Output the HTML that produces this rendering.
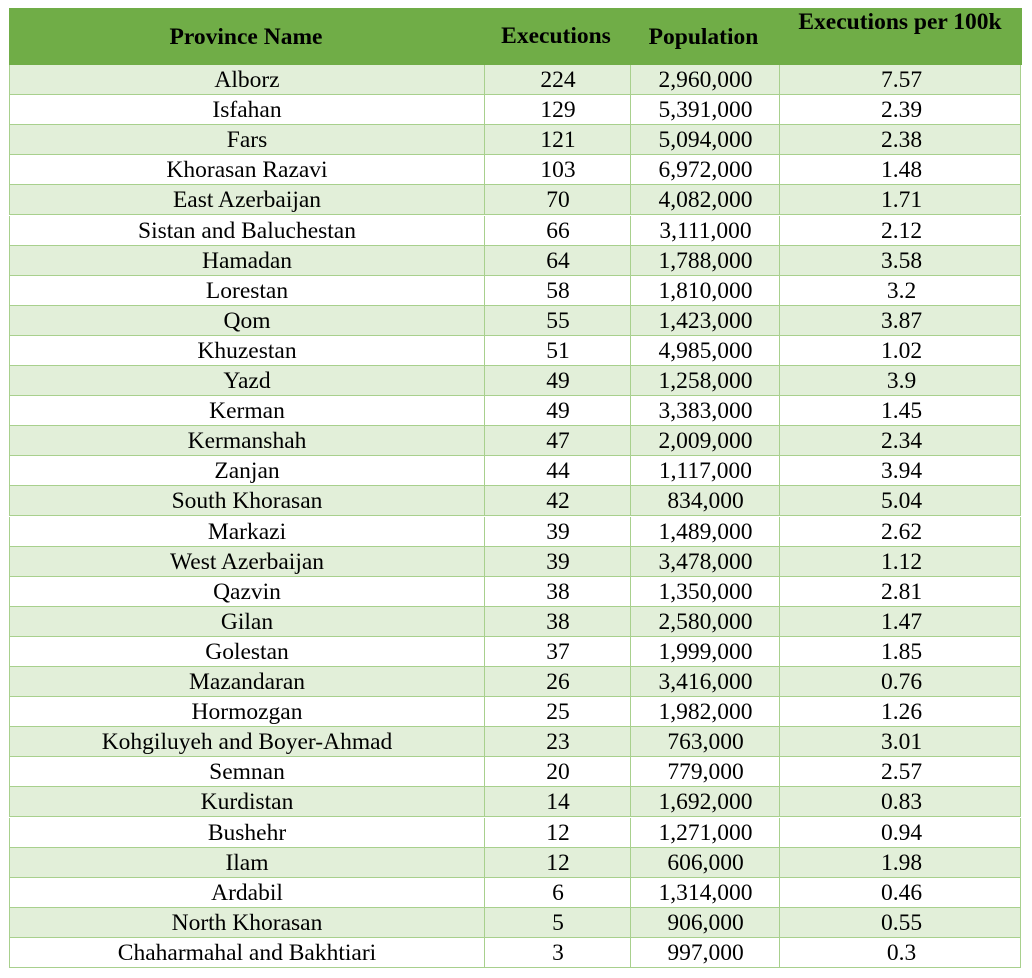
<!DOCTYPE html>
<html><head><meta charset="utf-8"><style>
body{margin:0;width:1032px;height:978px;background:#fff;position:relative;font-family:"Liberation Serif",serif;color:#000;overflow:hidden}
.h{position:absolute;top:8px;left:9px;width:1013px;height:57px;background:#70AD47}
.ht{position:absolute;font-weight:bold;font-size:23.5px;text-align:center}
.r{position:absolute;left:9px;width:1012px;border:1px solid #A8D08D;border-top:none;box-sizing:border-box;height:30.1px}
.g{background:#E2EFD9}
.c{position:absolute;top:0;height:100%;font-size:23.5px;text-align:center;line-height:30px}
.c1{left:0;width:474px}
.c2{left:474px;width:146px;border-left:1px solid #A8D08D}
.c3{left:620px;width:149px;border-left:1px solid #A8D08D}
.c4{left:769px;width:243px;border-left:1px solid #A8D08D}
</style></head><body>
<div class="h"></div>
<div class="ht" style="left:9px;width:474px;top:24px">Province Name</div>
<div class="ht" style="left:483px;width:146px;top:23px">Executions</div>
<div class="ht" style="left:629px;width:149px;top:24px">Population</div>
<div class="ht" style="left:778px;width:244px;top:9px">Executions per 100k</div>
<div id="t"></div>
<script>
var d=[["Alborz",224,"2,960,000","7.57"],["Isfahan",129,"5,391,000","2.39"],["Fars",121,"5,094,000","2.38"],["Khorasan Razavi",103,"6,972,000","1.48"],["East Azerbaijan",70,"4,082,000","1.71"],["Sistan and Baluchestan",66,"3,111,000","2.12"],["Hamadan",64,"1,788,000","3.58"],["Lorestan",58,"1,810,000","3.2"],["Qom",55,"1,423,000","3.87"],["Khuzestan",51,"4,985,000","1.02"],["Yazd",49,"1,258,000","3.9"],["Kerman",49,"3,383,000","1.45"],["Kermanshah",47,"2,009,000","2.34"],["Zanjan",44,"1,117,000","3.94"],["South Khorasan",42,"834,000","5.04"],["Markazi",39,"1,489,000","2.62"],["West Azerbaijan",39,"3,478,000","1.12"],["Qazvin",38,"1,350,000","2.81"],["Gilan",38,"2,580,000","1.47"],["Golestan",37,"1,999,000","1.85"],["Mazandaran",26,"3,416,000","0.76"],["Hormozgan",25,"1,982,000","1.26"],["Kohgiluyeh and Boyer-Ahmad",23,"763,000","3.01"],["Semnan",20,"779,000","2.57"],["Kurdistan",14,"1,692,000","0.83"],["Bushehr",12,"1,271,000","0.94"],["Ilam",12,"606,000","1.98"],["Ardabil",6,"1,314,000","0.46"],["North Khorasan",5,"906,000","0.55"],["Chaharmahal and Bakhtiari",3,"997,000","0.3"]];
var h="";
d.forEach(function(r,i){h+='<div class="r'+(i%2==0?' g':'')+'" style="top:'+(65+i*30.1).toFixed(1)+'px"><div class="c c1">'+r[0]+'</div><div class="c c2">'+r[1]+'</div><div class="c c3">'+r[2]+'</div><div class="c c4">'+r[3]+'</div></div>';});
document.getElementById("t").innerHTML=h;
</script>
</body></html>
